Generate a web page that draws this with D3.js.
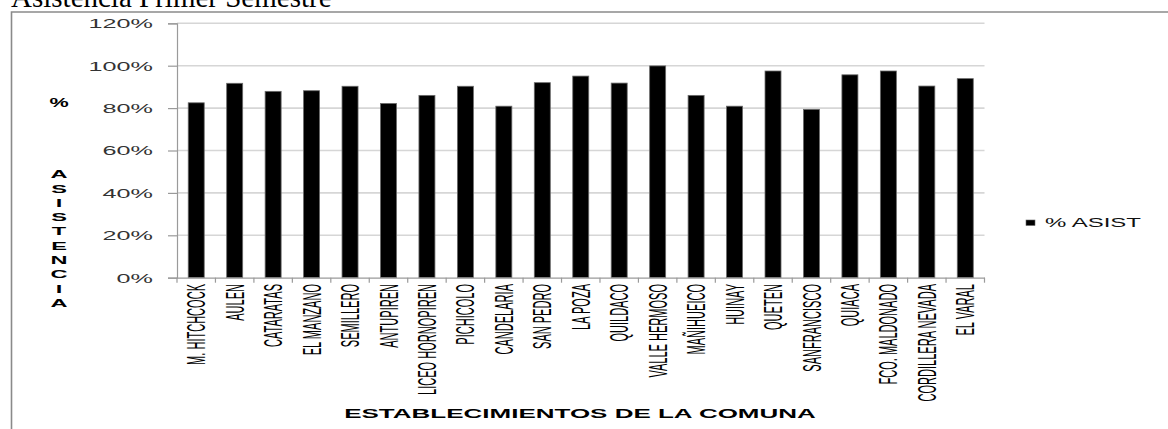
<!DOCTYPE html>
<html><head><meta charset="utf-8">
<script src="https://cdn.jsdelivr.net/npm/d3@7"></script>
<style>body{margin:0;background:#fff}svg{display:block}</style>
</head><body>
<svg id="c" width="1168" height="429"></svg>
<script>
const categories = ["M. HITCHCOCK","AULEN","CATARATAS","EL MANZANO","SEMILLERO","ANTUPIREN","LICEO HORNOPIREN","PICHICOLO","CANDELARIA","SAN PEDRO","LA POZA","QUILDACO","VALLE HERMOSO","MAÑIHUEICO","HUINAY","QUETEN","SANFRANCISCO","QUIACA","FCO. MALDONADO","CORDILLERA NEVADA","EL VARAL"];
const asistencia = [82.5, 91.7, 87.9, 88.2, 90.3, 82.2, 86.0, 90.3, 80.9, 92.0, 95.1, 91.8, 99.9, 86.0, 80.9, 97.5, 79.4, 95.7, 97.5, 90.4, 93.9];
const yTicks = [0, 20, 40, 60, 80, 100, 120];
const seriesName = "% ASIST";
const title = "Asistencia Primer Semestre";
const xTitle = "ESTABLECIMIENTOS DE LA COMUNA";
const yTitleTop = "%";
const yTitleLetters = ["A","S","I","S","T","E","N","C","I","A"];

const svg = d3.select("#c");
const L = 177, R = 984.5, T = 23.3, B = 277.7;
const x = d3.scaleBand().domain(categories).range([L, R]).paddingInner(0.584).paddingOuter(0.292);
const xb = d3.scaleBand().domain(categories).range([L, R]);
const y = d3.scaleLinear().domain([0, 120]).range([B, T]);

// title (cut off at top, as in the reference)
svg.append("text").attr("x", 11).attr("y", 7)
  .attr("font-family", "Liberation Serif, Times New Roman, serif").attr("font-size", 29)
  .attr("fill", "#000").text(title);

// frame
svg.append("path").attr("d", `M11.5,429 L11.5,12 L1168,12`).attr("fill", "none")
  .attr("stroke", "#8a8a8a").attr("stroke-width", 1.6);

// gridlines
svg.append("g").selectAll("line").data(yTicks.filter(d => d > 0)).join("line")
  .attr("x1", L).attr("x2", R).attr("y1", d => y(d)).attr("y2", d => y(d))
  .attr("stroke", "#d6d6d6").attr("stroke-width", 1.6);

// y axis
const ya = svg.append("g").attr("transform", `translate(${L},0)`)
  .call(d3.axisLeft(y).tickValues(yTicks).tickSize(9).tickFormat(d => d + "%"));
ya.select(".domain").attr("stroke", "#9a9a9a").attr("stroke-width", 1.2);
ya.selectAll(".tick line").attr("stroke", "#9a9a9a").attr("stroke-width", 1.2);
ya.selectAll(".tick text").each(function(d) {
  const t = d3.select(this);
  t.attr("x", null).attr("dy", null)
   .attr("transform", `translate(-24,4.3) scale(2.1,1)`)
   .attr("font-family", "Liberation Sans, Arial, sans-serif").attr("font-size", 12)
   .attr("fill", "#333").attr("text-anchor", "end");
});

// bars
svg.append("g").selectAll("rect").data(categories).join("rect")
  .attr("x", d => x(d)).attr("width", x.bandwidth())
  .attr("y", (d, i) => y(asistencia[i])).attr("height", (d, i) => B - y(asistencia[i]))
  .attr("fill", "#000").attr("stroke", "#6a6a6a").attr("stroke-width", 0.8);

// x axis
const xa = svg.append("g").attr("transform", `translate(0,${B})`)
  .call(d3.axisBottom(xb).tickSize(0).tickFormat(""));
xa.select(".domain").attr("stroke", "#9a9a9a").attr("stroke-width", 1.2);
xa.selectAll(".tick").remove();
svg.append("g").selectAll("line").data(d3.range(categories.length + 1)).join("line")
  .attr("x1", i => L + i * xb.step()).attr("x2", i => L + i * xb.step())
  .attr("y1", B).attr("y2", B + 5).attr("stroke", "#9a9a9a").attr("stroke-width", 1.2);

// x labels
svg.append("g").selectAll("text").data(categories).join("text")
  .attr("transform", d => `translate(${xb(d) + xb.bandwidth() / 2},284) rotate(-90) scale(0.92,2.1)`)
  .attr("dy", "0.36em").attr("text-anchor", "end")
  .attr("font-family", "Liberation Sans, Arial, sans-serif").attr("font-size", 12)
  .attr("fill", "#000").text(d => d);

// x title
svg.append("text").attr("transform", `translate(580,418) scale(2,1)`)
  .attr("text-anchor", "middle").attr("font-family", "Liberation Sans, Arial, sans-serif")
  .attr("font-weight", "bold").attr("font-size", 13).attr("fill", "#000").text(xTitle);

// y title
svg.append("text").attr("transform", `translate(59,107) scale(1.8,1)`)
  .attr("text-anchor", "middle").attr("font-family", "Liberation Sans, Arial, sans-serif")
  .attr("font-weight", "bold").attr("font-size", 12).attr("fill", "#000").text(yTitleTop);
svg.append("g").selectAll("text").data(yTitleLetters).join("text")
  .attr("transform", (d, i) => `translate(59,${178.2 + i * 14.3}) scale(2,1)`)
  .attr("text-anchor", "middle").attr("font-family", "Liberation Sans, Arial, sans-serif")
  .attr("font-weight", "bold").attr("font-size", 11.8).attr("fill", "#000").text(d => d);

// legend
const lg = svg.append("g");
lg.append("rect").attr("x", 1026).attr("y", 220).attr("width", 9).attr("height", 5.5)
  .attr("fill", "#000").attr("stroke", "#666").attr("stroke-width", 0.6);
lg.append("text").attr("transform", `translate(1045,227) scale(2,1)`)
  .attr("font-family", "Liberation Sans, Arial, sans-serif").attr("font-size", 12)
  .attr("fill", "#111").text(seriesName);
</script>
</body></html>
